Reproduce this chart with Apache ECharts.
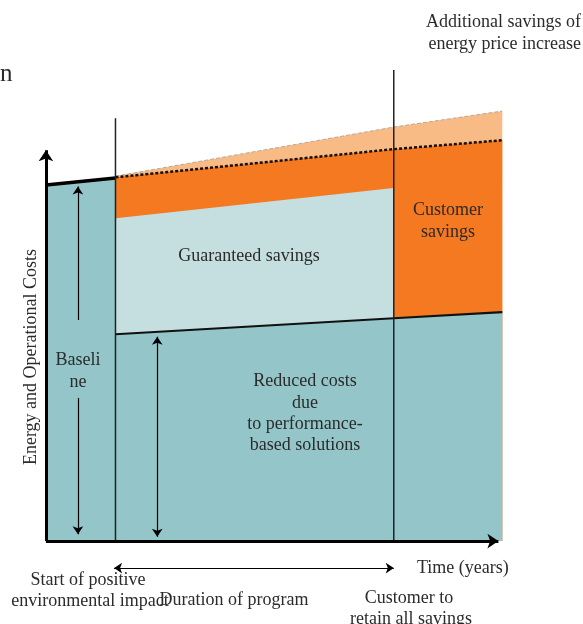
<!DOCTYPE html>
<html><head><meta charset="utf-8">
<script src="https://cdn.jsdelivr.net/npm/echarts@6/dist/echarts.min.js"></script>
<style>html,body{margin:0;padding:0;background:#fff}#c{width:583px;height:624px}</style>
</head><body><div id="c"></div>
<script>
// ---- data (time in years, cost in % of baseline) ----
const baselineTime = [0, 2.5];
const baselineCost = [100, 102];
const programStart = 2.5;
const programEnd = 12.5;
const horizonEnd = 16.4;
const phaseTime = [programStart, programEnd, horizonEnd];
const reducedCost = [58.1, 62.6, 64.3];
const guaranteedTop = [90.7, 99.2];          // at programStart, programEnd
const customerTop = [102.2, 110.1, 112.6];
const priceIncreaseTop = [102.5, 116.3, 120.8];
const startLineTop = 118.8;
const endLineTop = 132.3;
const yAxisTop = 109.8;
const xAxisEnd = 16.26;

const zip = (xs, ys) => xs.map((x, i) => [x, ys[i]]);
const SERIF = '"Liberation Serif", "DejaVu Serif", serif';
const TXT = '#2b2b2b';

const baseLine = (name, data, ls, area) => ({
  name, type: 'line', data, symbol: 'none', showSymbol: false, silent: true,
  lineStyle: ls, areaStyle: area ? { color: area, opacity: 1, origin: 0 } : undefined,
  z: 2
});

const series = [
  baseLine('price', zip(phaseTime, priceIncreaseTop), { color: '#b9a99b', width: 1, type: [4, 2] }, '#F8BB86'),
  baseLine('customer', zip(phaseTime, customerTop), { color: '#111', width: 2.5, type: [3, 2] }, '#F47920'),
  baseLine('guaranteed', zip([programStart, programEnd], guaranteedTop), { width: 0 }, '#C5DFE0'),
  baseLine('teal', zip(baselineTime, baselineCost).concat(zip(phaseTime, reducedCost)), { width: 0 }, '#94C6C9'),
  baseLine('baselineEdge', zip(baselineTime, baselineCost), { color: '#000', width: 3.5 }),
  baseLine('reducedEdge', zip(phaseTime, reducedCost), { color: '#111', width: 2.2 }),
  baseLine('startLine', [[programStart, 0], [programStart, startLineTop]], { color: '#222', width: 1.5 }),
  baseLine('endLine', [[programEnd, 0], [programEnd, endLineTop]], { color: '#222', width: 1.5 }),
  {
    type: 'line', data: [], silent: true,
    markLine: {
      silent: true, animation: false, label: { show: false },
      symbol: ['none', 'arrow'], symbolSize: 11,
      lineStyle: { color: '#000', width: 3, type: 'solid' },
      emphasis: { disabled: true },
      data: [
        [{ coord: [0, 0] }, { coord: [0, yAxisTop] }],
        [{ coord: [0, 0] }, { coord: [xAxisEnd, 0] }]
      ]
    }
  },
  {
    type: 'line', data: [], silent: true,
    markLine: {
      silent: true, animation: false, label: { show: false },
      symbol: ['arrow', 'arrow'], symbolSize: 8,
      lineStyle: { color: '#000', width: 1.2, type: 'solid' },
      emphasis: { disabled: true },
      data: [
        [{ coord: [1.15, 62.1], symbol: 'none' }, { coord: [1.15, 99.6] }],
        [{ coord: [1.15, 40.2], symbol: 'none' }, { coord: [1.15, 1.9] }],
        [{ coord: [4.0, 1.2] }, { coord: [4.0, 57.4] }],
        [{ coord: [programStart - 0.05, -7.6] }, { coord: [programEnd + 0.0, -7.6] }]
      ]
    }
  }
];

const t = (text, x, y, opts = {}) => ({
  type: 'text', x, y, rotation: opts.rotation || 0, silent: true, z: 100,
  style: {
    text, font: (opts.size || 18) + 'px ' + SERIF, fill: TXT,
    align: opts.align || 'center', verticalAlign: 'middle'
  }
});

const graphic = [
  t('n', 0, 74, { align: 'left', size: 25 }),
  t('Additional savings of', 581, 22, { align: 'right' }),
  t('energy price increase', 581, 44, { align: 'right' }),
  t('Customer', 448, 210),
  t('savings', 448, 232),
  t('Guaranteed savings', 249, 256),
  t('Baseli', 78, 360),
  t('ne', 78, 382),
  t('Reduced costs', 305, 381),
  t('due', 305, 403),
  t('to performance-', 305, 424),
  t('based solutions', 305, 445),
  t('Energy and Operational Costs', 31, 357, { rotation: Math.PI / 2 }),
  t('Time (years)', 417, 568, { align: 'left' }),
  t('Start of positive', 88, 580),
  t('environmental impact', 90, 601),
  t('Duration of program', 234, 600),
  t('Customer to', 409, 598),
  t('retain all savings', 411, 619)
];

const chart = echarts.init(document.getElementById('c'), null, { renderer: 'canvas' });
chart.setOption({
  animation: false,
  backgroundColor: '#fff',
  grid: { left: 0, right: 0, top: 0, bottom: 0, containLabel: false },
  xAxis: { type: 'value', min: -1.65, max: 19.3, show: false },
  yAxis: { type: 'value', min: -23.3, max: 152, show: false },
  tooltip: { show: false },
  series,
  graphic
});
</script></body></html>
